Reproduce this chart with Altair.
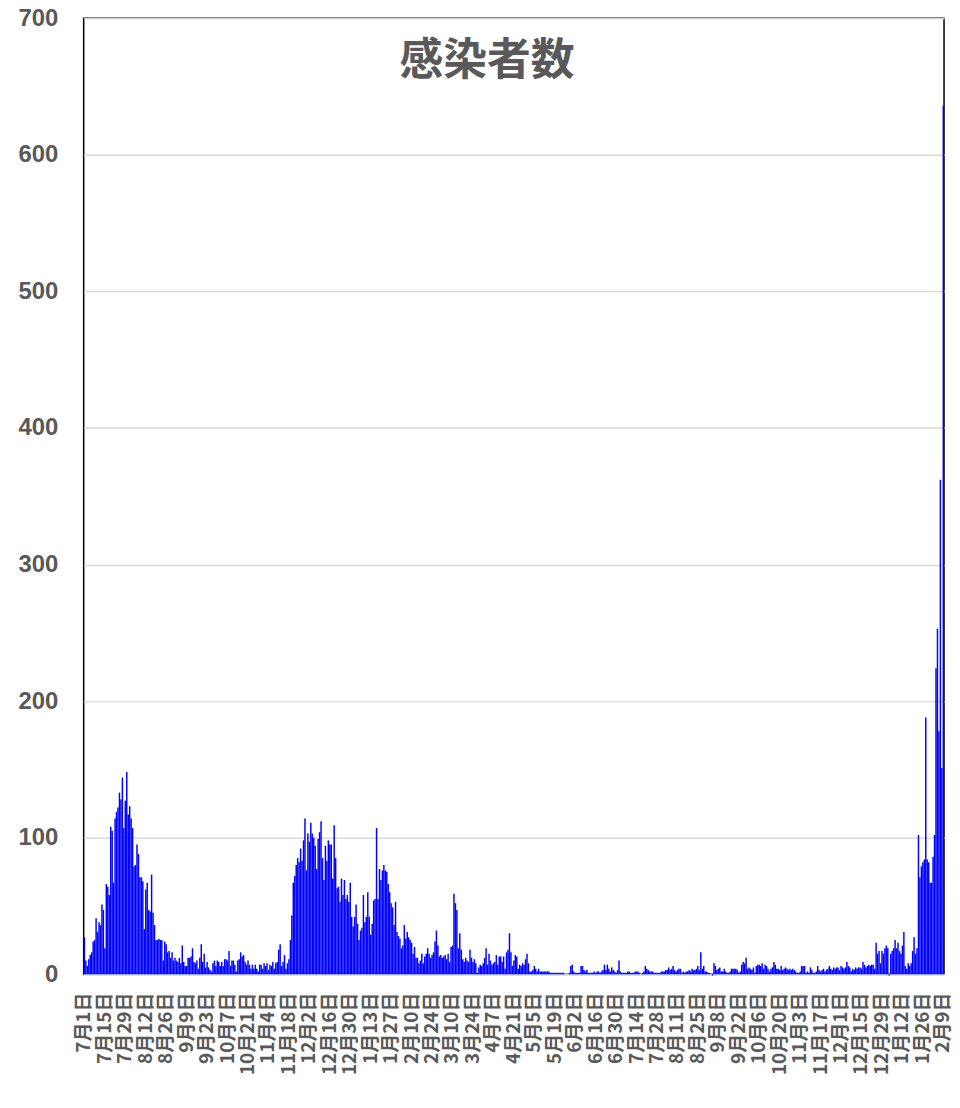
import altair as alt
import pandas as pd

# Daily counts, one bar per day from 2020-07-01 to 2022-02-09
summer_2020 = [
    27, 10, 6, 11, 14, 16, 24, 25, 41, 31,
    38, 36, 51, 47, 19, 66, 64, 58, 108, 105,
    67, 114, 119, 122, 133, 128, 144, 107, 127, 148,
    117, 123, 114, 107, 79, 80, 95, 88, 71, 71,
    68, 33, 62, 67, 47, 46, 73, 45, 36, 25,
    25, 26, 25, 25, 10, 24, 22, 16, 17, 12,
    16, 10, 12, 10, 9, 12, 8, 21, 9, 6,
    6, 12, 12, 13, 19, 9, 8, 10, 4, 12,
    22, 9, 15, 5, 9, 5, 3, 2, 8, 10,
    6, 10, 9, 6, 9, 6, 11, 11, 10, 17,
    6, 10,
]
autumn_winter_2020 = [
    10, 7, 2, 10, 11, 16, 13, 14, 9, 7,
    10, 7, 4, 7, 4, 7, 4, 2, 7, 7,
    4, 8, 6, 8, 3, 7, 6, 9, 4, 8,
    9, 18, 22, 6, 9, 14, 4, 8, 11, 25,
    43, 67, 72, 80, 85, 82, 92, 83, 98, 114,
    76, 103, 97, 111, 103, 100, 94, 77, 99, 104,
    112, 85, 69, 94, 83, 98, 95, 95, 70, 109,
    85, 63, 64, 53, 70, 58, 69, 55, 58, 53,
    67, 42, 35, 42, 51, 37, 25, 32, 34, 58,
    38, 42, 60, 42, 29, 37, 54, 55, 107, 55,
    77, 69, 76, 80, 76, 75,
]
spring_2021 = [
    66, 60, 52, 49, 36, 53, 31, 28, 26, 19,
    21, 36, 26, 31, 27, 25, 23, 15, 20, 12,
    12, 8, 10, 15, 8, 13, 15, 19, 15, 12,
    14, 16, 24, 32, 21, 13, 14, 12, 13, 14,
    11, 15, 9, 20, 21, 59, 52, 47, 19, 30,
    18, 11, 9, 12, 10, 9, 18, 12, 9, 11,
    8, 1, 5, 7, 6, 8, 12, 19, 7, 15,
    10, 7, 8, 9, 14, 7, 13, 13, 9, 13,
    4, 16, 18, 30, 16, 6, 10, 14, 13, 4,
    7, 6, 8, 7, 11, 15, 8, 2, 2,
]
summer_2021 = [
    3, 6, 4, 2, 4, 2, 2, 2, 2, 2, 2, 2, 1, 1, 1, 1,
    1, 1, 1, 1, 1, 1, 0, 0, 0, 1, 6, 7, 2, 1, 1, 1,
    1, 6, 6, 3, 2, 3, 1, 1, 1, 1, 2, 1, 2, 2, 1, 2,
    3, 7, 3, 7, 4, 2, 5, 3, 2, 1, 3, 10, 2, 1, 1, 1,
    1, 2, 2, 1, 1, 1, 2, 2, 2, 1, 0, 1, 2, 6, 4, 3,
    2, 2, 2, 1, 1, 1, 1, 1, 2, 2, 2, 3, 3, 5, 3, 4,
    6, 3, 2, 3, 4, 4, 1, 2, 1, 2, 2, 3, 2, 4, 3, 3,
    4, 6, 3, 16, 4, 6, 2, 2, 1, 1, 0, -1, 8, 6, 3, 4,
    5, 2, 2, 4, 2,
]
autumn_2021 = [
    1, 1, 2, 4, 4, 4, 4, 3, 1, 2, 7, 9, 8, 12, 4, 5,
    4, 3, 5, 1, 6, 7, 7, 6, 8, 4, 7, 6, 4, 2, 4, 5,
    9, 7, 4, 4, 3, 6, 3, 4, 5, 4, 3, 4, 3, 4, 3, 2,
    1, 1, 2, 6, 6, 6, 1, 2, 1, 5, 3, 1, 1, 2, 6, 3,
    2, 3, 4, 2, 3, 4, 6, 4, 3, 5, 4, 5, 5, 3, 6, 5,
    4, 5, 9, 6, 5, 2, 4, 3, 5, 4, 5, 5, 4, 9, 7, 5,
    6, 7, 6, 7, 7, 4,
]
december_2021 = [
    23, 15, 17, 8, 17, 15, 19, 21, 19, -1, 15, 17, 19, 25, 19,
    23, 17, 15, 21, 31, 6, 4, 8, 6, 8, 17, 27, 15, 19,
]
surge_2022 = [
    102, 71, 79, 82, 84, 188, 84, 82, 67, 67, 86, 102, 224, 253, 178, 362, 151, 636,
]

tick_labels = [
    "7月1日", "7月15日", "7月29日", "8月12日", "8月26日", "9月9日", "9月23日",
    "10月7日", "10月21日", "11月4日", "11月18日", "12月2日", "12月16日", "12月30日",
    "1月13日", "1月27日", "2月10日", "2月24日", "3月10日", "3月24日", "4月7日",
    "4月21日", "5月5日", "5月19日", "6月2日", "6月16日", "6月30日", "7月14日",
    "7月28日", "8月11日", "8月25日", "9月8日", "9月22日", "10月6日", "10月20日",
    "11月3日", "11月17日", "12月1日", "12月15日", "12月29日", "1月12日", "1月26日",
    "2月9日",
]
y_ticks = [0, 100, 200, 300, 400, 500, 600, 700]

counts = (summer_2020 + autumn_winter_2020 + spring_2021 + summer_2021
          + autumn_2021 + december_2021 + surge_2022)
df = pd.DataFrame({"day": list(range(len(counts))), "cases": counts})

tick_days = [i * 14 for i in range(len(tick_labels))]
label_js = "[" + ",".join("'%s'" % s for s in tick_labels) + "]"
label_expr = label_js + "[floor(datum.value / 14)]"

GRAY = "#595959"
CJK = "Noto Sans CJK JP"

chart = (
    alt.Chart(df)
    .mark_bar(color="#0000ff")
    .encode(
        x=alt.X(
            "day:O",
            scale=alt.Scale(paddingInner=0, paddingOuter=0),
            axis=alt.Axis(
                values=tick_days,
                labelExpr=label_expr,
                labelAngle=270,
                labelOverlap=False,
                labelFont=CJK,
                labelFontSize=19,
                labelFontWeight="bold",
                labelColor=GRAY,
                labelPadding=18,
                ticks=False,
                domainColor="#d9d9d9",
                domainWidth=2,
                title=None,
            ),
        ),
        y=alt.Y(
            "cases:Q",
            scale=alt.Scale(domain=[0, 700], nice=False),
            axis=alt.Axis(
                values=y_ticks,
                grid=True,
                gridColor="#d9d9d9",
                gridWidth=1.5,
                domain=False,
                ticks=False,
                labelFont="Liberation Sans",
                labelFontSize=24,
                labelFontWeight="bold",
                labelColor=GRAY,
                labelPadding=26,
                title=None,
            ),
        ),
    )
    .properties(
        width=864,
        height=960,
        autosize=alt.AutoSizeParams(type="none"),
        padding={"left": 76, "top": 8, "right": 8, "bottom": 124},
        title=alt.TitleParams(
            "感染者数",
            font=CJK,
            fontSize=44,
            fontWeight="bold",
            color=GRAY,
            anchor="middle",
            offset=-78,
            dx=-27,
        ),
    )
    .configure_view(stroke="#000000", strokeWidth=1.5)
)

chart.save("out.html", embed_options={"renderer": "svg", "actions": False})
